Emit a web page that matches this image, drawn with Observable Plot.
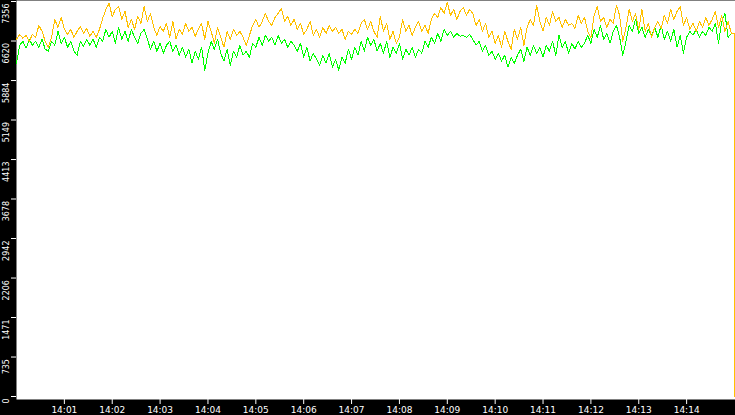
<!DOCTYPE html>
<html><head><meta charset="utf-8">
<script src="https://cdn.jsdelivr.net/npm/d3@7"></script>
<script src="https://cdn.jsdelivr.net/npm/@observablehq/plot@0.6"></script>
<style>html,body{margin:0;padding:0;background:#000;overflow:hidden}</style>
</head><body><div id="chart"></div>
<script>
// sampling: one reading every 4 seconds from 14:00:00, last (partial) reading at 14:15:00
const sampleSeconds = 4;
const finalSecond = 900;

// orange series
const seriesA = [
6652,6745,6670,6726,6615,6745,6689,6911,6800,6615,
6504,6689,7023,6874,7060,6837,6745,6837,6689,6800,
6893,6763,6856,6708,6800,6689,6837,7041,7208,7319,
7078,7208,7263,7023,7171,6874,7023,6837,7078,6948,
7263,6985,7134,6874,6726,6893,6800,6948,6689,6985,
6652,6837,6745,6948,6800,6874,6708,6837,6948,6652,
6985,6800,6578,6874,6689,6504,6800,6652,6837,6726,
6800,6689,6541,6726,6911,7023,6874,6985,7134,6985,
6911,7060,7134,7226,6985,7078,6911,7023,6837,6948,
6745,6837,6985,6726,6837,6689,6874,6763,6911,6800,
6874,6763,6837,6652,6800,6745,6837,6763,6948,7023,
6837,6985,6800,6689,7078,6800,6948,6652,6800,6578,
6689,7023,6800,6911,6726,6874,6985,6800,6911,6763,
7023,7134,7060,7245,7134,7337,7097,7208,7023,7171,
7245,7097,7208,7134,6911,7023,6800,6948,6689,6800,
6578,6726,6504,6800,6615,6467,6837,6652,6874,6541,
6874,7023,6911,7282,6985,6800,7060,6911,7171,6985,
7060,6874,7023,6911,6948,6856,7097,6948,7060,6800,
6689,7097,7263,6985,7060,6874,7023,6948,7282,7097,
6615,6874,7208,6985,7134,6837,7208,6800,6948,6689,
6874,6985,6856,7097,6948,7208,7023,7171,7263,6911,
7060,6837,6948,6800,6985,6874,7060,6911,7023,7171,
6874,7097,6800,6985,6763
];
const seriesAFinal = 0;

// green series
const seriesB = [
6207,6541,6615,6485,6652,6541,6615,6504,6652,6467,
6430,6615,6541,6800,6578,6689,6504,6615,6430,6355,
6615,6522,6652,6541,6652,6504,6689,6615,6837,6689,
6800,6578,6874,6652,6800,6615,6837,6689,6578,6763,
6837,6652,6467,6615,6430,6578,6392,6541,6615,6430,
6541,6355,6504,6318,6467,6207,6430,6281,6504,6078,
6392,6615,6467,6652,6392,6244,6467,6170,6430,6318,
6541,6355,6430,6318,6578,6504,6689,6541,6726,6615,
6689,6541,6726,6578,6652,6504,6615,6541,6430,6578,
6318,6504,6244,6392,6281,6170,6355,6207,6392,6133,
6281,6078,6318,6207,6467,6281,6504,6355,6615,6430,
6689,6541,6652,6430,6578,6392,6615,6318,6504,6392,
6578,6281,6467,6355,6504,6318,6467,6392,6615,6504,
6689,6578,6763,6615,6837,6726,6800,6689,6763,6708,
6726,6689,6745,6652,6541,6615,6430,6541,6355,6430,
6281,6392,6244,6355,6133,6318,6207,6355,6467,6244,
6504,6355,6541,6392,6504,6318,6541,6430,6615,6355,
6726,6504,6615,6392,6578,6467,6615,6504,6578,6726,
6578,6837,6689,6911,6652,6763,6578,6800,6911,6689,
6355,6615,6911,6800,7023,6763,6874,6689,6837,6726,
6874,6689,6911,6652,6800,6615,6837,6504,6726,6392,
6689,6800,6726,6837,6689,6800,6726,6874,6800,6948,
6578,6985,7134,6689,6763
];
const seriesBFinal = 3409;

// axes
const yTicks = [0, 735, 1471, 2206, 2942, 3678, 4413, 5149, 5884, 6620, 7356];
const yLabels = ["0", "735", "1471", "2206", "2942", "3678", "4413", "5149", "5884", "6620", "7356"];
const xTicks = [60, 120, 180, 240, 300, 360, 420, 480, 540, 600, 660, 720, 780, 840];
const xLabels = ["14:01","14:02","14:03","14:04","14:05","14:06","14:07","14:08","14:09","14:10","14:11","14:12","14:13","14:14"];

const colorA = "#ffc000";
const colorB = "#00ff00";

const toRows = (vals) => vals.map((v, i) => ({t: i * sampleSeconds, v}));
const dataA = toRows(seriesA);
const dataB = toRows(seriesB);
// last regular reading followed by the partial final reading (drawn as a step)
const tailA = [dataA[dataA.length - 1], {t: finalSecond, v: seriesAFinal}];
const tailB = [dataB[dataB.length - 1], {t: finalSecond, v: seriesBFinal}];

const lineOpts = (stroke, curve) => ({x: "t", y: "v", stroke, strokeWidth: 1, curve, shapeRendering: "crispEdges"});

const chart = Plot.plot({
  width: 735,
  height: 415,
  marginLeft: 16,
  marginRight: 0,
  marginTop: 0,
  marginBottom: 16,
  style: {background: "black", fontFamily: "DejaVu Sans", overflow: "visible"},
  x: {type: "linear", domain: [0, finalSecond], insetRight: 1},
  y: {type: "linear", domain: [0, 7356], insetTop: 1, insetBottom: 3},
  marks: [
    Plot.frame({fill: "white", stroke: null}),
    Plot.line(dataB, lineOpts(colorB, "linear")),
    Plot.line(tailB, lineOpts(colorB, "step-after")),
    Plot.line(dataA, lineOpts(colorA, "linear")),
    Plot.line(tailA, lineOpts(colorA, "step-after")),
    Plot.axisY({ticks: yTicks, tickSize: 5, tickFormat: () => "", color: "white", label: null}),
    Plot.text(yTicks, {
      y: d => d,
      text: d => yLabels[yTicks.indexOf(d)],
      frameAnchor: "left",
      dx: -10,
      dy: 2,
      rotate: -90,
      textAnchor: "end",
      fill: "white",
      fontSize: 8
    }),
    Plot.axisX({
      ticks: xTicks,
      tickFormat: d => xLabels[xTicks.indexOf(d)],
      tickSize: 5,
      tickPadding: 2,
      color: "white",
      fontSize: 9,
      label: null
    })
  ]
});
document.getElementById("chart").appendChild(chart);
</script>
</body></html>
